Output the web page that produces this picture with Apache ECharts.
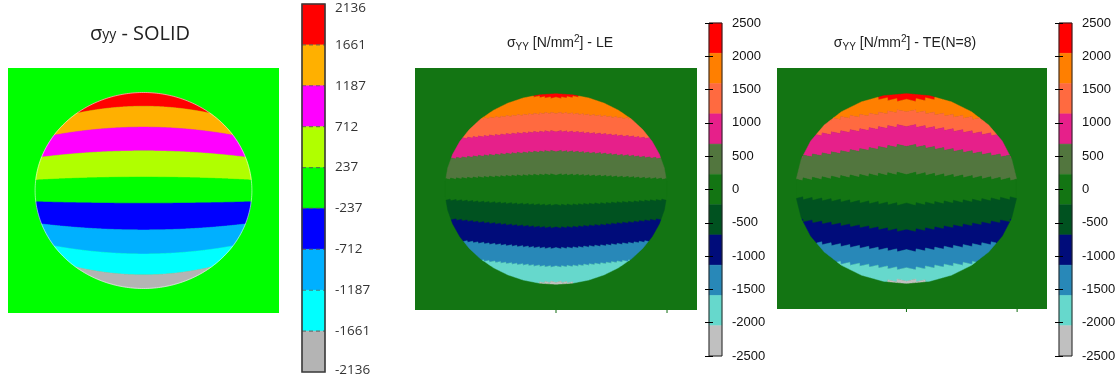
<!DOCTYPE html>
<html>
<head>
<meta charset="utf-8">
<script src="https://cdn.jsdelivr.net/npm/echarts@6/dist/echarts.min.js"></script>
<style>
  html, body { margin: 0; padding: 0; background: #ffffff; }
  #chart { width: 1119px; height: 382px; }
</style>
</head>
<body>
<div id="chart"></div>
<script>
// ---- σyy contour data ----
// Each contour boundary is [height on the vertical centre line, height where it meets the rim],
// measured in disk radii (disk centre = 0, top of disk = 1).

// SOLID model: 9 bands between 10 levels
const solidLevels = [2136, 1661, 1187, 712, 237, -237, -712, -1187, -1661, -2136];
const solidColors = ['#ff0000', '#ffb000', '#ff00ff', '#b0ff00', '#00ff00', '#0000ff', '#00b0ff', '#00ffff', '#b4b4b4'];
const solidBoundaries = [
  [0.860, 0.789], [0.647, 0.565], [0.405, 0.341], [0.137, 0.107],
  [-0.130, -0.114], [-0.402, -0.341], [-0.647, -0.565], [-0.860, -0.779]
];

// LE / TE models: 11 colour bands over -2500 … 2500
const feTicks = [2500, 2000, 1500, 1000, 500, 0, -500, -1000, -1500, -2000, -2500];
const feBandEdges = [2500, 2045, 1591, 1136, 682, 227, -227, -682, -1136, -1591, -2045, -2500];
const feColors = ['#ff0000', '#ff7f00', '#ff6a40', '#e6208a', '#52763e', '#137513', '#005220', '#000c7a', '#2888b8', '#66d8cc', '#c0c0c0'];
const leBoundaries = [
  [0.955, 0.975], [0.801, 0.738], [0.608, 0.532], [0.399, 0.319], [0.152, 0.103],
  [-0.170, -0.112], [-0.407, -0.316], [-0.623, -0.547], [-0.816, -0.751], [-0.972, -0.985]
];
const teBoundaries = [
  [0.925, 0.955], [0.825, 0.731], [0.668, 0.563], [0.459, 0.336], [0.162, 0.092],
  [-0.170, -0.099], [-0.449, -0.337], [-0.659, -0.571], [-0.850, -0.780], [-0.962, -0.980]
];

// plate extents in disk radii [xmin, xmax, ymin, ymax]
const solidPlate = [-1.25, 1.25, -1.25, 1.25];
const lePlate = [-1.27, 1.27, -1.27, 1.27];
const tePlate = [-1.17, 1.27, -1.27, 1.27];
const plateTicks = [0, 1];

// ---- geometry helpers ----
// half height of the disk outline at x (smooth circle, or an even-sided polygon with a vertex on top)
function rimHalf(x, facets) {
  const ax = Math.abs(x);
  if (ax >= 1) return 0;
  if (!facets) return Math.sqrt(1 - ax * ax);
  const step = 2 * Math.PI / facets;
  for (let k = 0; (k + 1) * step <= Math.PI / 2 + 1e-9; k++) {
    const x0 = Math.sin(k * step), x1 = Math.sin((k + 1) * step);
    if (ax <= x1) {
      const y0 = Math.cos(k * step), y1 = Math.cos((k + 1) * step);
      return y0 + (y1 - y0) * (ax - x0) / (x1 - x0);
    }
  }
  return 0;
}

// contour line height at x; mesh-based models get a stepped edge
function lineY(b, x, p) {
  const c = b[0], e = b[1];
  const xe = Math.sqrt(Math.max(1e-6, 1 - e * e));
  let y = c + (e - c) * Math.pow(Math.abs(x) / xe, p.shape);
  if (p.saw) {
    const t = Math.abs(x) / p.saw.width;
    y += Math.sign(c - e || 1) * p.saw.depth * (t - Math.floor(t) - 0.5);
  }
  return y;
}

// polygons (in data units) covering one band inside the disk
function bandRuns(upper, lower, p) {
  const n = 640, runs = [];
  let top = [], bot = [];
  const flush = () => {
    if (top.length > 1) runs.push(top.concat(bot.reverse()));
    top = []; bot = [];
  };
  for (let i = 0; i <= n; i++) {
    const x = -1 + 2 * i / n;
    const s = rimHalf(x, p.facets);
    const hi = upper ? Math.min(s, lineY(upper, x, p)) : s;
    const lo = lower ? Math.max(-s, lineY(lower, x, p)) : -s;
    if (hi > lo) { top.push([x, hi]); bot.push([x, lo]); } else flush();
  }
  flush();
  return runs;
}

const panels = [
  { grid: 0, colors: solidColors, boundaries: solidBoundaries, shape: 2, facets: 0, saw: null },
  { grid: 2, colors: feColors, boundaries: leBoundaries, shape: 1.3, facets: 42, saw: { width: 0.05, depth: 0.018 } },
  { grid: 4, colors: feColors, boundaries: teBoundaries, shape: 1.05, facets: 30, saw: { width: 0.085, depth: 0.032 } }
];

function diskSeries(p) {
  return {
    type: 'custom', xAxisIndex: p.grid, yAxisIndex: p.grid, silent: true, z: 3,
    data: p.colors.map(() => [0, 0]),
    renderItem(params, api) {
      const i = params.dataIndex;
      const upper = i > 0 ? p.boundaries[i - 1] : null;
      const lower = i < p.boundaries.length ? p.boundaries[i] : null;
      const col = p.colors[i];
      return {
        type: 'group',
        children: bandRuns(upper, lower, p).map(pts => ({
          type: 'polygon',
          shape: { points: pts.map(q => api.coord(q)) },
          style: { fill: col, stroke: col, lineWidth: 0.5 }
        }))
      };
    }
  };
}

// faint light rim around the smooth disk
function rimSeries(g) {
  return {
    type: 'custom', xAxisIndex: g, yAxisIndex: g, silent: true, z: 4,
    data: [[0, 0]],
    renderItem(params, api) {
      const pts = [];
      for (let k = 0; k < 360; k++) {
        const a = k * Math.PI / 180;
        pts.push(api.coord([Math.cos(a), Math.sin(a)]));
      }
      return { type: 'polygon', shape: { points: pts }, style: { fill: null, stroke: 'rgba(255,255,255,0.55)', lineWidth: 1 } };
    }
  };
}

function plateTickSeries(g, plate) {
  return {
    type: 'custom', xAxisIndex: g, yAxisIndex: g, silent: true, z: 4,
    data: plateTicks.map(v => [v, plate[2]]),
    renderItem(params, api) {
      const a = api.coord([api.value(0), api.value(1)]);
      return { type: 'line', shape: { x1: a[0], y1: a[1], x2: a[0], y2: a[1] + 3 }, style: { stroke: '#0e6a0e', lineWidth: 1 } };
    }
  };
}

function colorbarSeries(g, edges, colors, dashed) {
  return {
    type: 'custom', xAxisIndex: g, yAxisIndex: g, silent: true, z: 2,
    encode: { x: [0, 2], y: [1, 3] },
    data: colors.map((c, i) => [0, edges[i], 1, edges[i + 1]]),
    renderItem(params, api) {
      const a = api.coord([api.value(0), api.value(1)]);
      const b = api.coord([api.value(2), api.value(3)]);
      const col = colors[params.dataIndex];
      const kids = [{
        type: 'rect',
        shape: { x: a[0], y: a[1], width: b[0] - a[0], height: b[1] - a[1] },
        style: { fill: col, stroke: col, lineWidth: 0.5 }
      }];
      if (dashed && params.dataIndex > 0) {
        kids.push({
          type: 'line', z2: 5,
          shape: { x1: a[0], y1: a[1], x2: b[0], y2: a[1] },
          style: { stroke: '#555', lineWidth: 1.2, lineDash: [4, 3], opacity: 0.75 }
        });
      }
      return { type: 'group', children: kids };
    }
  };
}

function frameSeries(g, top, bottom, color, width) {
  return {
    type: 'custom', xAxisIndex: g, yAxisIndex: g, silent: true, z: 6,
    encode: { x: [0, 2], y: [1, 3] },
    data: [[0, top, 1, bottom]],
    renderItem(params, api) {
      const a = api.coord([api.value(0), api.value(1)]);
      const b = api.coord([api.value(2), api.value(3)]);
      return { type: 'rect', shape: { x: a[0], y: a[1], width: b[0] - a[0], height: b[1] - a[1] }, style: { fill: null, stroke: color, lineWidth: width } };
    }
  };
}

const hidden = (gridIndex, min, max) => ({ type: 'value', gridIndex, min, max, show: false });

const feLabel = { margin: 10, fontFamily: 'Liberation Sans', fontSize: 13, color: '#111' };
const feTickStyle = { show: true, inside: true, length: 4, lineStyle: { color: '#000', width: 1 } };

const titleRichFE = {
  a: { fontFamily: 'Liberation Sans', fontSize: 14, fontWeight: 'normal', lineHeight: 18, color: '#222' },
  b: { fontFamily: 'Liberation Sans', fontSize: 10, fontWeight: 'normal', lineHeight: 14, verticalAlign: 'bottom', color: '#222' },
  c: { fontFamily: 'Liberation Sans', fontSize: 10, fontWeight: 'normal', lineHeight: 8, verticalAlign: 'top', color: '#222' }
};

const option = {
  animation: false,
  backgroundColor: '#ffffff',
  title: [
    {
      text: '{a|σ}{b|yy}{a| - SOLID}', left: 140, top: 21, textAlign: 'center', padding: 0,
      textStyle: {
        fontWeight: 'normal',
        rich: {
          a: { fontFamily: 'Open Sans', fontSize: 20, fontWeight: 'normal', lineHeight: 26, color: '#222' },
          b: { fontFamily: 'Open Sans', fontSize: 14, fontWeight: 'normal', lineHeight: 26, color: '#222', padding: [3, 0, 0, 0] }
        }
      }
    },
    { text: '{a|σ}{b|YY}{a| [N/mm}{c|2}{a|] - LE}', left: 560, top: 34, textAlign: 'center', padding: 0, textStyle: { fontWeight: 'normal', rich: titleRichFE } },
    { text: '{a|σ}{b|YY}{a| [N/mm}{c|2}{a|] - TE(N=8)}', left: 905, top: 34, textAlign: 'center', padding: 0, textStyle: { fontWeight: 'normal', rich: titleRichFE } }
  ],
  grid: [
    { left: 8, top: 68, width: 271, height: 245, show: true, backgroundColor: '#00ff00', borderWidth: 0 },
    { left: 302, top: 4, width: 23, height: 368 },
    { left: 415, top: 68, width: 282, height: 242, show: true, backgroundColor: '#137513', borderWidth: 0 },
    { left: 709, top: 23, width: 13, height: 333 },
    { left: 777, top: 68, width: 270, height: 241, show: true, backgroundColor: '#137513', borderWidth: 0 },
    { left: 1059, top: 23, width: 13, height: 333 }
  ],
  xAxis: [
    hidden(0, solidPlate[0], solidPlate[1]),
    hidden(1, 0, 1),
    hidden(2, lePlate[0], lePlate[1]),
    hidden(3, 0, 1),
    hidden(4, tePlate[0], tePlate[1]),
    hidden(5, 0, 1)
  ],
  yAxis: [
    hidden(0, solidPlate[2], solidPlate[3]),
    {
      type: 'value', gridIndex: 1, min: -2136, max: 2136, position: 'right', z: 10,
      axisLine: { show: false }, axisTick: { show: false }, splitLine: { show: false },
      axisLabel: {
        customValues: solidLevels, showMinLabel: true, showMaxLabel: true,
        margin: 10, fontFamily: 'Open Sans', fontSize: 13.5, color: '#333',
        formatter: v => v === 2136 ? '{top|' + v + '}' : (v === -2136 ? '{bot|' + v + '}' : String(v)),
        rich: {
          top: { fontFamily: 'Open Sans', fontSize: 13.5, color: '#333', padding: [9, 0, 0, 0] },
          bot: { fontFamily: 'Open Sans', fontSize: 13.5, color: '#333', padding: [0, 0, 4, 0] }
        }
      }
    },
    hidden(2, lePlate[2], lePlate[3]),
    {
      type: 'value', gridIndex: 3, min: -2500, max: 2500, interval: 500, position: 'right', z: 10,
      axisLine: { show: false }, axisTick: feTickStyle, splitLine: { show: false },
      axisLabel: Object.assign({ formatter: v => feTicks.includes(v) ? String(v) : '' }, feLabel)
    },
    hidden(4, tePlate[2], tePlate[3]),
    {
      type: 'value', gridIndex: 5, min: -2500, max: 2500, interval: 500, position: 'right', z: 10,
      axisLine: { show: false }, axisTick: feTickStyle, splitLine: { show: false },
      axisLabel: Object.assign({ formatter: v => feTicks.includes(v) ? String(v) : '' }, feLabel)
    },
    {
      type: 'value', gridIndex: 3, min: -2500, max: 2500, interval: 500, position: 'left', z: 10,
      axisLine: { show: false }, axisTick: feTickStyle, axisLabel: { show: false }, splitLine: { show: false }
    },
    {
      type: 'value', gridIndex: 5, min: -2500, max: 2500, interval: 500, position: 'left', z: 10,
      axisLine: { show: false }, axisTick: feTickStyle, axisLabel: { show: false }, splitLine: { show: false }
    }
  ],
  series: [
    ...panels.map(diskSeries),
    rimSeries(0),
    plateTickSeries(2, lePlate),
    plateTickSeries(4, tePlate),
    colorbarSeries(1, solidLevels, solidColors, true),
    colorbarSeries(3, feBandEdges, feColors, false),
    colorbarSeries(5, feBandEdges, feColors, false),
    frameSeries(1, 2136, -2136, '#3a3a3a', 1.6),
    frameSeries(3, 2500, -2500, '#222', 1),
    frameSeries(5, 2500, -2500, '#222', 1)
  ]
};

const chart = echarts.init(document.getElementById('chart'));
chart.setOption(option);
</script>
</body>
</html>
